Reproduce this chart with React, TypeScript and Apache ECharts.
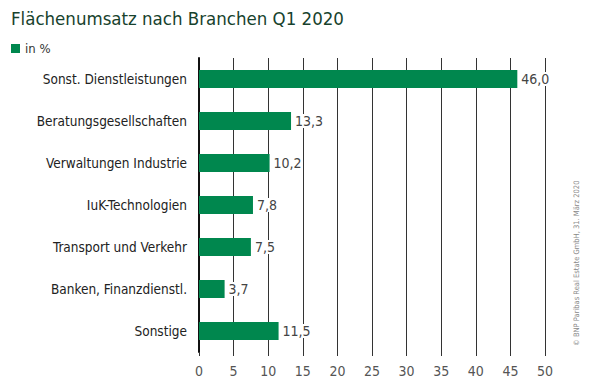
import React, { useEffect, useRef } from "react";
import * as echarts from "echarts";

const categories = [
  "Sonst. Dienstleistungen",
  "Beratungsgesellschaften",
  "Verwaltungen Industrie",
  "IuK-Technologien",
  "Transport und Verkehr",
  "Banken, Finanzdienstl.",
  "Sonstige",
];
const values = [46.0, 13.3, 10.2, 7.8, 7.5, 3.7, 11.5];
const titleText = "Flächenumsatz nach Branchen Q1 2020";
const legendText = "in %";
const sourceText = "© BNP Paribas Real Estate GmbH, 31. März 2020";

const narrow = "'DejaVu Sans Condensed', Roboto, sans-serif";

export default function App() {
  const ref = useRef<HTMLDivElement>(null);
  useEffect(() => {
    if (!ref.current) return;
    const chart = echarts.init(ref.current, undefined, { renderer: "svg" });
    chart.setOption({
      animation: false,
      backgroundColor: "#ffffff",
      textStyle: { fontFamily: narrow },
      title: {
        text: titleText,
        left: 6,
        top: 4,
        textStyle: { fontSize: 18.5, fontWeight: "normal", color: "#17422d", fontFamily: narrow },
      },
      legend: {
        left: 6,
        top: 37,
        itemWidth: 9,
        itemHeight: 9,
        itemGap: 4,
        icon: "rect",
        data: [legendText],
        textStyle: { fontSize: 13, color: "#333", fontFamily: narrow },
      },
      graphic: [
        {
          type: "text",
          x: 572,
          y: 346,
          rotation: Math.PI / 2,
          style: { text: sourceText, fontSize: 7.5, fill: "#888", fontFamily: narrow },
        },
      ],
      grid: { left: 199, right: 55, top: 58, bottom: 34, containLabel: false },
      xAxis: {
        type: "value",
        min: 0,
        max: 50,
        interval: 5,
        axisLine: { show: false },
        axisTick: { show: true, length: 4, lineStyle: { color: "#333" } },
        splitLine: { show: true, lineStyle: { color: "#333", width: 1 } },
        axisLabel: { fontSize: 14, color: "#555", margin: 12, fontFamily: narrow },
      },
      yAxis: {
        type: "category",
        inverse: true,
        data: categories,
        axisLine: { show: true, lineStyle: { color: "#111", width: 2 } },
        axisTick: { show: false },
        axisLabel: { fontSize: 13.5, color: "#222", margin: 12, fontFamily: narrow },
      },
      series: [
        {
          name: legendText,
          type: "bar",
          data: values,
          barWidth: 18,
          itemStyle: { color: "#00874e" },
          label: {
            show: true,
            position: "right",
            distance: 4,
            fontSize: 14,
            color: "#444",
            fontFamily: narrow,
            backgroundColor: "#fff",
            formatter: (p: any) => p.value.toFixed(1).replace(".", ","),
          },
        },
      ],
    });
    return () => chart.dispose();
  }, []);
  return <div ref={ref} style={{ width: 600, height: 386, position: "absolute", left: 0, top: 0 }} />;
}
